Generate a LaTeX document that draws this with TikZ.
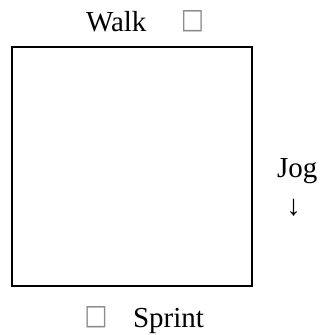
\documentclass[tikz,border=0pt]{standalone}
\usepackage{fontspec}
\setmainfont{Liberation Serif}
\newfontfamily\symfont[FakeStretch=0.88]{DejaVu Sans}
\begin{document}
\begin{tikzpicture}[x=1pt,y=1pt,
  lbl/.style={inner sep=0pt, outer sep=0pt, font=\fontsize{29}{34}\selectfont, text=black},
  tofu/.style={inner sep=0pt, outer sep=0pt, font=\symfont\fontsize{28}{33}\selectfont, text=black!45},
  frame/.style={draw=black, line width=2pt}]
\useasboundingbox (0,0) rectangle (322,335);
\node[frame, minimum width=240pt, minimum height=239pt, inner sep=0pt, anchor=south west] (box) at (11,48) {};
\node[lbl, anchor=base west] (walk) at (86,303) {Walk};
\node[tofu, anchor=south] (walkicon) at (192.5,303) {□};
\node[lbl, anchor=base west] (jog) at (277,157) {Jog};
\node[lbl, anchor=center] (jogarrow) at (293.5,127.5) {↓};
\node[tofu, anchor=south] (sprinticon) at (96,7) {□};
\node[lbl, anchor=base west] (sprint) at (133,7) {Sprint};
\end{tikzpicture}
\end{document}
